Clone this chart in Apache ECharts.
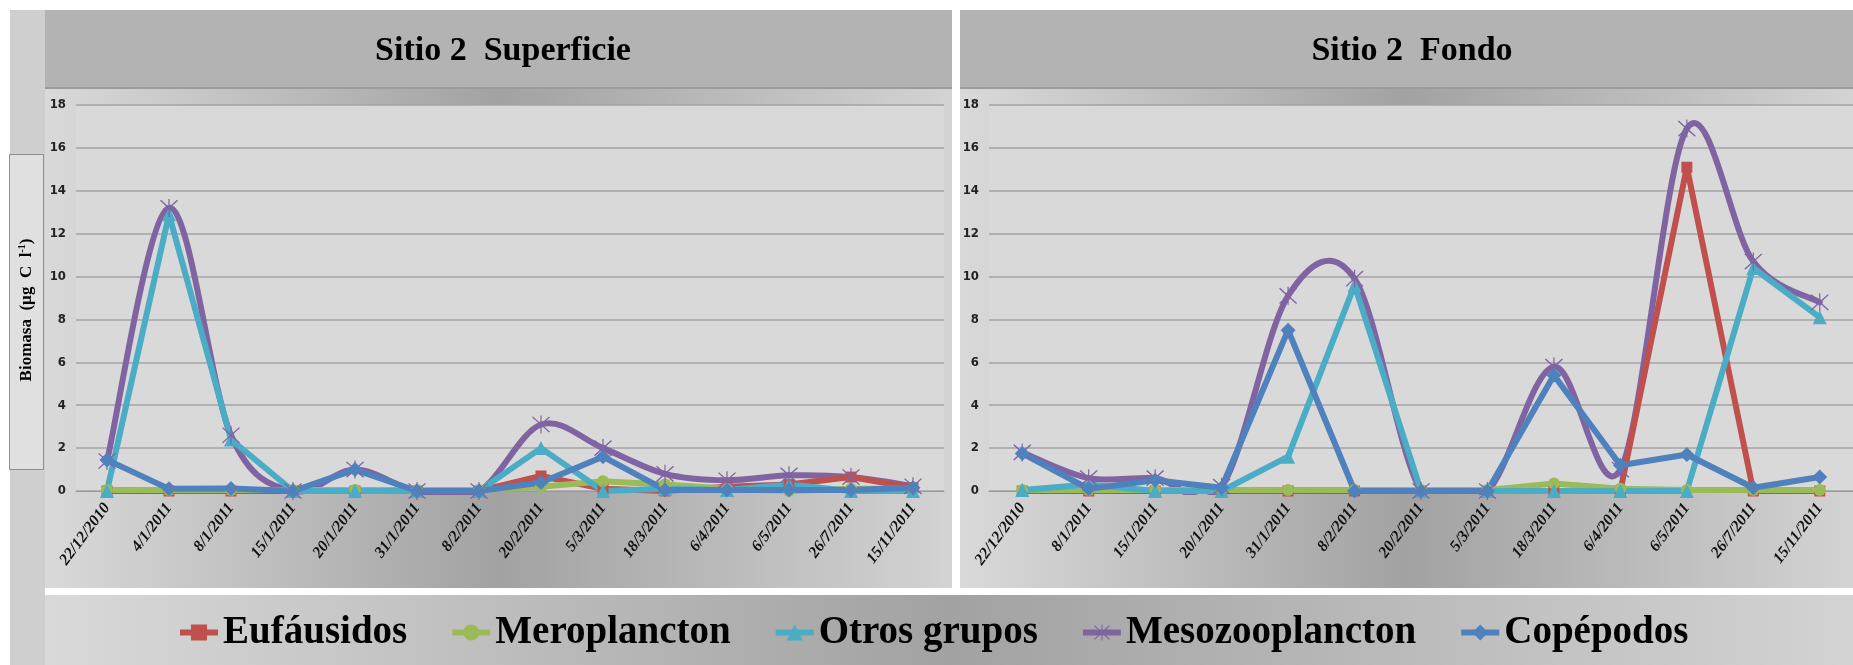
<!DOCTYPE html>
<html>
<head>
<meta charset="utf-8">
<script src="https://cdn.jsdelivr.net/npm/echarts@6/dist/echarts.min.js"></script>
<style>
  html, body { margin: 0; padding: 0; background: #fff; }
  #chart { width: 1853px; height: 665px; }
</style>
</head>
<body>
<div id="chart"></div>
<script>
// fechas de muestreo
var fechasSup = ['22/12/2010', '4/1/2011', '8/1/2011', '15/1/2011', '20/1/2011', '31/1/2011', '8/2/2011',
  '20/2/2011', '5/3/2011', '18/3/2011', '6/4/2011', '6/5/2011', '26/7/2011', '15/11/2011'];
var fechasFon = ['22/12/2010', '8/1/2011', '15/1/2011', '20/1/2011', '31/1/2011', '8/2/2011',
  '20/2/2011', '5/3/2011', '18/3/2011', '6/4/2011', '6/5/2011', '26/7/2011', '15/11/2011'];

// Sitio 2 Superficie (ug C l-1)
var eufSup = [0, 0, 0, 0, 0, 0, 0, 0.7, 0.1, 0, 0.2, 0.3, 0.65, 0.15];
var merSup = [0.05, 0.05, 0.05, 0.05, 0.05, 0.05, 0.05, 0.2, 0.45, 0.3, 0.1, 0, 0.1, 0.1];
var otrSup = [0, 12.9, 2.4, 0, 0, 0, 0, 2.0, 0, 0.1, 0.05, 0.3, 0, 0];
var mesSup = [1.4, 13.2, 2.6, 0, 1.0, 0, 0, 3.1, 2.0, 0.8, 0.5, 0.73, 0.65, 0.22];
var copSup = [1.45, 0.1, 0.12, 0, 1.0, 0, 0, 0.4, 1.6, 0.05, 0.05, 0.05, 0.05, 0.15];

// Sitio 2 Fondo
var eufFon = [0, 0, 0, 0, 0, 0, 0, 0, 0, 0, 15.1, 0, 0];
var merFon = [0.05, 0.05, 0.05, 0.05, 0.05, 0.05, 0.05, 0.05, 0.35, 0.1, 0.05, 0.05, 0.05];
var otrFon = [0.05, 0.3, 0, 0, 1.6, 9.6, 0, 0, 0, 0, 0, 10.4, 8.1];
var mesFon = [1.8, 0.6, 0.6, 0.2, 9.1, 9.9, 0, 0, 5.8, 1.0, 16.9, 10.7, 8.8];
var copFon = [1.75, 0.1, 0.5, 0.15, 7.5, 0, 0, 0, 5.4, 1.2, 1.7, 0.15, 0.65];

var grupos = ['Eufáusidos', 'Meroplancton', 'Otros grupos', 'Mesozooplancton', 'Copépodos'];
var ejeY = [0, 18, 2]; // min, max, intervalo

// asterisco (marcador de Mesozooplancton)
var asterisco = 'path://M1,2 L2,1 L19,18 L18,19 Z M18,1 L19,2 L2,19 L1,18 Z M9.4,0 L10.6,0 L10.6,20 L9.4,20 Z';

var estilos = [
  { color: '#C0504D', symbol: 'rect', size: 11, curva: false },
  { color: '#9BBB59', symbol: 'circle', size: 12, curva: false },
  { color: '#4BACC6', symbol: 'triangle', size: 14, curva: false },
  { color: '#8064A2', symbol: asterisco, size: 18, curva: true },
  { color: '#4F81BD', symbol: 'diamond', size: 15, curva: false }
];

var chart = echarts.init(document.getElementById('chart'));

function gradiente() {
  return new echarts.graphic.LinearGradient(0, 0, 1, 0, [
    { offset: 0, color: '#d9d9d9' },
    { offset: 0.5, color: '#a2a2a2' },
    { offset: 1, color: '#d3d3d3' }
  ]);
}

// linea suavizada tipo Excel (catmull-rom), dibujada con las escalas del eje
function curvaSuave(idx, valores, color) {
  return {
    type: 'custom',
    name: 'curva',
    xAxisIndex: idx,
    yAxisIndex: idx,
    silent: true,
    data: valores.map(function (v, i) { return [i, v]; }),
    encode: { x: 0, y: 1 },
    renderItem: function (params, api) {
      var i = params.dataIndex;
      var n = valores.length;
      if (i >= n - 1) return null;
      var p = function (k) {
        k = Math.max(0, Math.min(n - 1, k));
        return api.coord([k, valores[k]]);
      };
      var p0 = p(i - 1), p1 = p(i), p2 = p(i + 1), p3 = p(i + 2);
      var cs = params.coordSys;
      return {
        type: 'group',
        clipPath: { type: 'rect', shape: { x: cs.x, y: cs.y - 10, width: cs.width, height: cs.height + 14 } },
        children: [{
          type: 'bezierCurve',
          shape: {
            x1: p1[0], y1: p1[1],
            cpx1: p1[0] + (p2[0] - p0[0]) / 6, cpy1: p1[1] + (p2[1] - p0[1]) / 6,
            cpx2: p2[0] - (p3[0] - p1[0]) / 6, cpy2: p2[1] - (p3[1] - p1[1]) / 6,
            x2: p2[0], y2: p2[1]
          },
          style: { stroke: color, lineWidth: 6, fill: null, lineCap: 'round' }
        }]
      };
    }
  };
}

function hacerSeries(idx, datos) {
  var out = [];
  for (var i = 0; i < datos.length; i++) {
    var e = estilos[i];
    out.push({
      name: grupos[i],
      type: 'line',
      xAxisIndex: idx,
      yAxisIndex: idx,
      data: datos[i],
      symbol: e.symbol,
      symbolSize: e.size,
      showAllSymbol: true,
      color: e.color,
      lineStyle: { width: 6, color: e.color, opacity: e.curva ? 0 : 1 },
      itemStyle: { color: e.color },
      emphasis: { disabled: true }
    });
    if (e.curva) out.push(curvaSuave(idx, datos[i], e.color));
  }
  return out;
}

function ejeX(idx, cats) {
  return {
    type: 'category',
    gridIndex: idx,
    data: cats,
    boundaryGap: true,
    axisTick: { show: false },
    axisLine: { show: true, lineStyle: { color: '#9a9a9a', width: 1 } },
    axisLabel: {
      interval: 0,
      rotate: 53,
      margin: 14,
      fontFamily: 'Liberation Serif',
      fontStyle: 'italic',
      fontWeight: 'bold',
      fontSize: 16,
      color: '#111'
    }
  };
}

function ejeYOpt(idx) {
  return {
    type: 'value',
    gridIndex: idx,
    min: ejeY[0],
    max: ejeY[1],
    interval: ejeY[2],
    axisLine: { show: false },
    axisTick: { show: false },
    splitLine: { lineStyle: { color: '#a3a3a3', width: 1.5 } },
    axisLabel: {
      margin: 10,
      fontFamily: "'Liberation Sans Narrow', 'DejaVu Sans Condensed', sans-serif",
      fontWeight: 'bold',
      fontSize: 13,
      color: '#222'
    }
  };
}

var legendData = grupos.map(function (g, i) {
  return { name: g, lineStyle: { width: 6, color: estilos[i].color, opacity: 1 } };
});

var option = {
  backgroundColor: '#ffffff',
  animation: false,
  graphic: [
    { type: 'rect', z: -10, shape: { x: 10, y: 10, width: 35, height: 655 }, style: { fill: '#cfcfcf' } },
    { type: 'rect', z: -10, shape: { x: 45, y: 10, width: 907, height: 78 }, style: { fill: '#b3b3b3' } },
    { type: 'rect', z: -10, shape: { x: 45, y: 88, width: 907, height: 500 }, style: { fill: gradiente() } },
    { type: 'rect', z: -10, shape: { x: 960, y: 10, width: 893, height: 78 }, style: { fill: '#b3b3b3' } },
    { type: 'rect', z: -10, shape: { x: 960, y: 88, width: 893, height: 500 }, style: { fill: gradiente() } },
    { type: 'line', z: -9, shape: { x1: 45, y1: 88, x2: 952, y2: 88 }, style: { stroke: '#9c9c9c', lineWidth: 2 } },
    { type: 'line', z: -9, shape: { x1: 960, y1: 88, x2: 1853, y2: 88 }, style: { stroke: '#9c9c9c', lineWidth: 2 } },
    { type: 'rect', z: -10, shape: { x: 45, y: 595, width: 1808, height: 70 }, style: { fill: gradiente() } },
    { type: 'rect', z: -9, shape: { x: 9.5, y: 154.5, width: 34, height: 315 }, style: { fill: '#e0e0e0', stroke: '#8f8f8f', lineWidth: 1 } },
    {
      type: 'text', z: 5, x: 27, y: 310, rotation: Math.PI / 2,
      style: {
        text: '{a|Biomasa  (µg  C  l}{s|-1}{a|)}',
        align: 'center', verticalAlign: 'middle',
        rich: {
          a: { fontFamily: 'Liberation Serif', fontWeight: 'bold', fontSize: 17, fill: '#000', lineHeight: 20 },
          s: { fontFamily: 'Liberation Serif', fontWeight: 'bold', fontSize: 10, fill: '#000', verticalAlign: 'top', lineHeight: 20 }
        }
      }
    }
  ],
  title: [
    {
      text: 'Sitio 2  Superficie', left: 503, top: 34, textAlign: 'center', padding: 0,
      textStyle: { fontFamily: 'Liberation Serif', fontWeight: 'bold', fontSize: 34, color: '#000' }
    },
    {
      text: 'Sitio 2  Fondo', left: 1412, top: 34, textAlign: 'center', padding: 0,
      textStyle: { fontFamily: 'Liberation Serif', fontWeight: 'bold', fontSize: 34, color: '#000' }
    }
  ],
  legend: {
    data: legendData,
    left: 177,
    top: 613,
    padding: 0,
    itemWidth: 38,
    itemHeight: 20,
    itemGap: 42,
    lineStyle: { width: 6 },
    textStyle: { fontFamily: 'Liberation Serif', fontWeight: 'bold', fontSize: 39, color: '#000' }
  },
  grid: [
    { left: 76, top: 105, width: 868, height: 386, show: true, backgroundColor: '#d9d9d9', borderWidth: 0 },
    { left: 989, top: 105, width: 866, height: 386, show: true, backgroundColor: '#d9d9d9', borderWidth: 0 }
  ],
  xAxis: [ejeX(0, fechasSup), ejeX(1, fechasFon)],
  yAxis: [ejeYOpt(0), ejeYOpt(1)],
  series: hacerSeries(0, [eufSup, merSup, otrSup, mesSup, copSup])
    .concat(hacerSeries(1, [eufFon, merFon, otrFon, mesFon, copFon]))
};

chart.setOption(option);
</script>
</body>
</html>
